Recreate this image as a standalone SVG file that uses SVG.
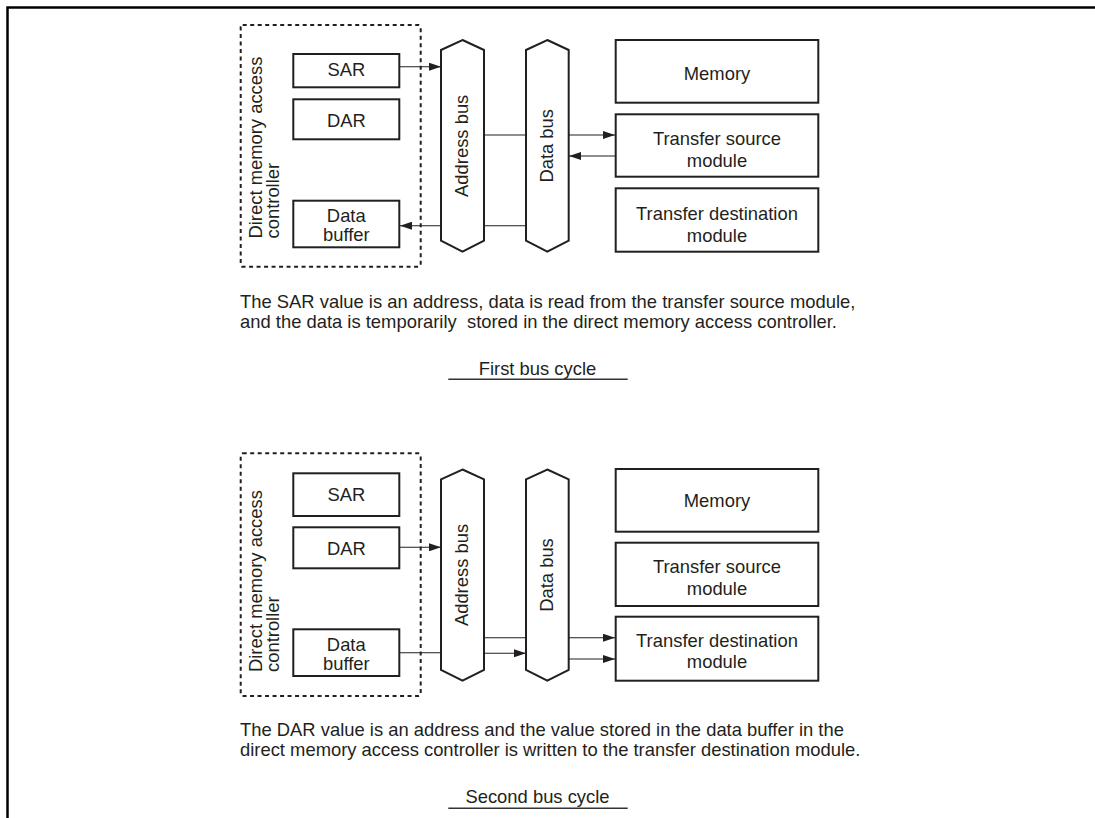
<svg xmlns="http://www.w3.org/2000/svg" width="1095" height="818" viewBox="0 0 1095 818">
<style>
text{font-family:"Liberation Sans",Arial,sans-serif;font-size:18.4px;fill:#231f20}
.m{text-anchor:middle}
.box{fill:#fff;stroke:#231f20;stroke-width:2}
.dash{fill:none;stroke:#231f20;stroke-width:2;stroke-dasharray:4 3.5}
.bus{fill:#fff;stroke:#231f20;stroke-width:2;stroke-linejoin:miter}
.ln{fill:none;stroke:#231f20;stroke-width:1.1}
.arr{fill:none;stroke:#231f20;stroke-width:1.1;marker-end:url(#ah)}
.ul{stroke:#333;stroke-width:1.6}
</style>
<defs>
<marker id="ah" viewBox="0 0 12 8" refX="12" refY="4" markerWidth="12" markerHeight="8" markerUnits="userSpaceOnUse" orient="auto">
<path d="M0,0 L12,4 L0,8 z" fill="#231f20"/>
</marker>
</defs>
<rect width="1095" height="818" fill="#fff"/>
<g id="frame">
<path d="M7.5,818 V7.5 H1095" fill="none" stroke="#000" stroke-width="2.5"/>
</g>

<!-- First bus cycle -->
<g id="dmac1">
<rect class="dash" x="240.7" y="25" width="180" height="241.7" rx="2"/>
<text transform="translate(261.5,238.5) rotate(-90)">Direct memory access</text>
<text transform="translate(279,238.5) rotate(-90)">controller</text>
</g>
<g id="sar1"><rect class="box" x="293.3" y="54" width="106" height="33.3"/><text class="m" x="346.3" y="75.5">SAR</text></g>
<g id="dar1"><rect class="box" x="293.3" y="99.3" width="106" height="40"/><text class="m" x="346.3" y="127">DAR</text></g>
<g id="buf1"><rect class="box" x="293.3" y="200.7" width="106" height="46.6"/><text class="m" x="346.3" y="221.5">Data</text><text class="m" x="346.3" y="240.5">buffer</text></g>
<g id="abus1"><path class="bus" d="M462.5,40 L484,50 V240.7 L462.5,251.7 L441,240.7 V50 Z"/><text class="m" transform="translate(468.3,145.8) rotate(-90)">Address bus</text></g>
<g id="dbus1"><path class="bus" d="M547.3,40 L568.7,50 V240.7 L547.3,251.7 L526,240.7 V50 Z"/><text class="m" transform="translate(553.3,145.8) rotate(-90)">Data bus</text></g>
<g id="mem1"><rect class="box" x="615.7" y="40" width="202.6" height="62.7"/><text class="m" x="717" y="79.5">Memory</text></g>
<g id="src1"><rect class="box" x="615.7" y="114.3" width="202.6" height="62.4"/><text class="m" x="717" y="145">Transfer source</text><text class="m" x="717" y="166.5">module</text></g>
<g id="dst1"><rect class="box" x="615.7" y="188.3" width="202.6" height="63.4"/><text class="m" x="717" y="220">Transfer destination</text><text class="m" x="717" y="241.5">module</text></g>
<g id="connectors1">
<line class="arr" x1="400" y1="66.7" x2="441" y2="66.7"/>
<line class="ln" x1="484" y1="135" x2="526" y2="135"/>
<line class="arr" x1="568.7" y1="135" x2="615" y2="135"/>
<line class="arr" x1="615" y1="156" x2="569" y2="156"/>
<line class="ln" x1="484" y1="225.7" x2="526" y2="225.7"/>
<line class="arr" x1="440" y1="225.7" x2="400" y2="225.7"/>
</g>
<g id="caption1">
<text x="240" y="307.5">The SAR value is an address, data is read from the transfer source module,</text>
<text x="240" y="328" xml:space="preserve">and the data is temporarily  stored in the direct memory access controller.</text>
<text class="m" x="537.5" y="375">First bus cycle</text>
<line class="ul" x1="448.3" y1="379.3" x2="627.7" y2="379.3"/>
</g>

<!-- Second bus cycle -->
<g id="dmac2">
<rect class="dash" x="240.7" y="453.3" width="180" height="242.7" rx="2"/>
<text transform="translate(261.5,672) rotate(-90)">Direct memory access</text>
<text transform="translate(279,672) rotate(-90)">controller</text>
</g>
<g id="sar2"><rect class="box" x="293.3" y="473.3" width="106" height="42.7"/><text class="m" x="346.3" y="500.5">SAR</text></g>
<g id="dar2"><rect class="box" x="293.3" y="527.3" width="106" height="41"/><text class="m" x="346.3" y="554.5">DAR</text></g>
<g id="buf2"><rect class="box" x="293.3" y="629.3" width="106" height="46.7"/><text class="m" x="346.3" y="650.5">Data</text><text class="m" x="346.3" y="669.5">buffer</text></g>
<g id="abus2"><path class="bus" d="M462.5,469.5 L484,479.3 V670 L462.5,680.7 L441,670 V479.3 Z"/><text class="m" transform="translate(468.3,575) rotate(-90)">Address bus</text></g>
<g id="dbus2"><path class="bus" d="M547.3,469.5 L568.7,479.3 V670 L547.3,680.7 L526,670 V479.3 Z"/><text class="m" transform="translate(553.3,575) rotate(-90)">Data bus</text></g>
<g id="mem2"><rect class="box" x="615.7" y="469" width="202.6" height="62.7"/><text class="m" x="717" y="506.7">Memory</text></g>
<g id="src2"><rect class="box" x="615.7" y="542.7" width="202.6" height="63.3"/><text class="m" x="717" y="573.3">Transfer source</text><text class="m" x="717" y="594.5">module</text></g>
<g id="dst2"><rect class="box" x="615.7" y="616.7" width="202.6" height="64"/><text class="m" x="717" y="646.7">Transfer destination</text><text class="m" x="717" y="668.3">module</text></g>
<g id="connectors2">
<line class="arr" x1="400" y1="547.3" x2="441" y2="547.3"/>
<line class="ln" x1="400" y1="652.7" x2="441" y2="652.7"/>
<line class="ln" x1="484" y1="637.7" x2="526" y2="637.7"/>
<line class="arr" x1="484" y1="653.3" x2="526" y2="653.3"/>
<line class="arr" x1="568.7" y1="637.7" x2="615" y2="637.7"/>
<line class="arr" x1="568.7" y1="659" x2="615" y2="659"/>
</g>
<g id="caption2">
<text x="240" y="736">The DAR value is an address and the value stored in the data buffer in the</text>
<text x="240" y="756">direct memory access controller is written to the transfer destination module.</text>
<text class="m" x="537.5" y="802.7">Second bus cycle</text>
<line class="ul" x1="448.3" y1="808.3" x2="627.7" y2="808.3"/>
</g>
</svg>
